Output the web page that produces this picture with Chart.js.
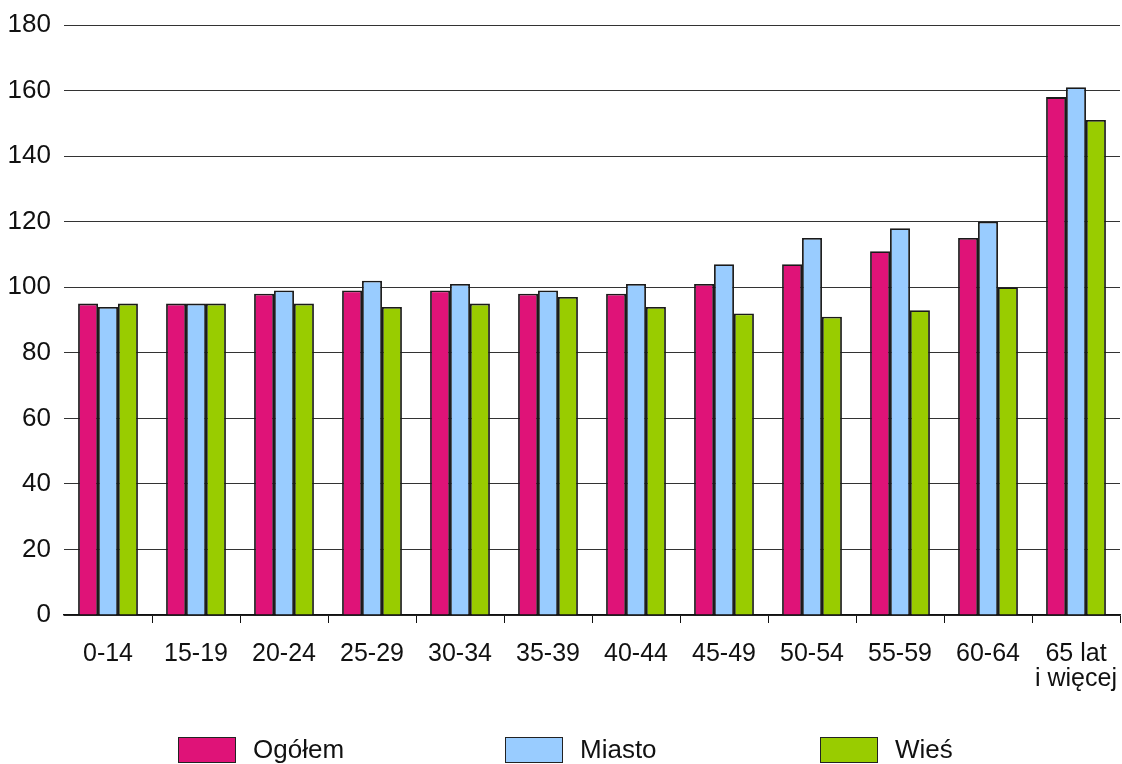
<!DOCTYPE html>
<html>
<head>
<meta charset="utf-8">
<script src="https://cdn.jsdelivr.net/npm/chart.js@4/dist/chart.umd.min.js"></script>
<style>
  body { margin: 0; background: #fff; }
  #wrap { position: relative; width: 1122px; height: 764px; }
  #legend { position: absolute; top: 734px; left: 0; width: 1122px; height: 28px;
    font-family: "Liberation Sans", Arial, sans-serif; font-size: 26px; color: #111; }
  .item { position: absolute; top: 0; display: flex; align-items: center; }
  .box { width: 56px; height: 24px; border: 1.5px solid #222; margin-right: 17px; }
</style>
</head>
<body>
<div id="wrap">
  <canvas id="chart" width="1122" height="764"></canvas>
  <div id="legend"></div>
</div>
<script>
const categories = ['0-14', '15-19', '20-24', '25-29', '30-34', '35-39', '40-44', '45-49', '50-54', '55-59', '60-64', ['65 lat', 'i więcej']];
const ogolem = [95, 95, 98, 99, 99, 98, 98, 101, 107, 111, 115, 158];
const miasto = [94, 95, 99, 102, 101, 99, 101, 107, 115, 118, 120, 161];
const wies = [95, 95, 95, 94, 95, 97, 94, 92, 91, 93, 100, 151];
const seriesNames = ['Ogółem', 'Miasto', 'Wieś'];
const colors = ['#DF1378', '#99CCFF', '#99CC00'];
const yTicks = [0, 20, 40, 60, 80, 100, 120, 140, 160, 180];

document.addEventListener('DOMContentLoaded', function () {
    const ctx = document.getElementById('chart').getContext('2d');
    const values = [ogolem, miasto, wies];

    new Chart(ctx, {
        type: 'bar',
        data: {
            labels: categories,
            datasets: values.map((v, i) => ({
                label: seriesNames[i],
                data: v,
                backgroundColor: colors[i],
                borderColor: '#1a1a1a',
                borderWidth: 1.8,
                categoryPercentage: 0.68,
                barPercentage: 1.0
            }))
        },
        options: {
            responsive: false,
            animation: false,
            layout: { padding: { top: 25, right: 2, left: 0, bottom: 53 } },
            plugins: { legend: { display: false }, tooltip: { enabled: false } },
            scales: {
                x: {
                    afterFit: axis => { axis.paddingRight = 0; },
                    grid: {
                        drawOnChartArea: false, drawTicks: true, tickLength: 8, offset: true,
                        color: c => c.index === 0 ? 'rgba(0,0,0,0)' : '#111'
                    },
                    border: { display: true, color: '#111', width: 1.5 },
                    ticks: {
                        color: '#111',
                        font: { family: 'Liberation Sans', size: 25, lineHeight: 1.0 },
                        padding: 19,
                        maxRotation: 0,
                        autoSkip: false
                    }
                },
                y: {
                    min: 0,
                    max: 180,
                    afterBuildTicks: axis => { axis.ticks = yTicks.map(v => ({ value: v })); },
                    afterFit: axis => { axis.width = 64; axis.paddingTop = 0; },
                    grid: { color: '#333', lineWidth: 1, drawTicks: false },
                    border: { display: false },
                    ticks: {
                        color: '#111',
                        font: { family: 'Liberation Sans', size: 26 },
                        padding: 13
                    }
                }
            }
        }
    });

    // legenda pod wykresem
    const legend = document.getElementById('legend');
    const lefts = [178, 505, 820];
    seriesNames.forEach((name, i) => {
        const item = document.createElement('div');
        item.className = 'item';
        item.style.left = lefts[i] + 'px';
        item.innerHTML = '<div class="box" style="background:' + colors[i] + '"></div><span>' + name + '</span>';
        legend.appendChild(item);
    });
});
</script>
</body>
</html>
